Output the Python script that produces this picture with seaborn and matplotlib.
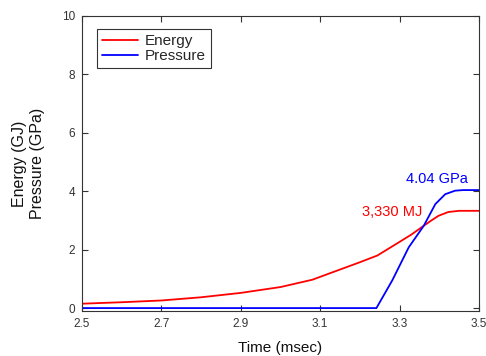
import matplotlib
matplotlib.use("Agg")
import matplotlib.pyplot as plt
import seaborn as sns
import pandas as pd

time_energy = [2.5, 2.6, 2.7, 2.8, 2.9, 3.0, 3.08, 3.15, 3.2, 3.244, 3.298, 3.33, 3.361, 3.38, 3.398, 3.423, 3.45, 3.5]
energy = [0.15, 0.2, 0.26, 0.37, 0.52, 0.72, 0.97, 1.32, 1.57, 1.80, 2.25, 2.52, 2.82, 3.0, 3.16, 3.29, 3.33, 3.33]

time_pressure = [2.5, 3.2416, 3.2816, 3.323, 3.361, 3.39, 3.415, 3.44, 3.46, 3.5]
pressure = [0.0, 0.0, 0.95, 2.08, 2.82, 3.56, 3.90, 4.02, 4.04, 4.04]

energy_label = "3,330 MJ"
pressure_label = "4.04 GPa"

sns.set_style("white")
plt.rcParams["font.family"] = ["Liberation Sans", "DejaVu Sans"]

df = pd.concat([
    pd.DataFrame({"Time": time_energy, "Value": energy, "Series": "Energy"}),
    pd.DataFrame({"Time": time_pressure, "Value": pressure, "Series": "Pressure"}),
])

fig = plt.figure(figsize=(4.86, 3.56), dpi=100)
ax = fig.add_axes([82 / 486, 1 - 311 / 356, 397 / 486, 295 / 356])

sns.lineplot(data=df, x="Time", y="Value", hue="Series",
             palette={"Energy": "#ff0000", "Pressure": "#0000ff"},
             linewidth=1.3, ax=ax, sort=False)

ax.set_xlim(2.5, 3.5)
ax.set_ylim(-0.1, 10)
ax.set_xticks([2.5, 2.7, 2.9, 3.1, 3.3, 3.5])
ax.set_xticklabels(["2.5", "2.7", "2.9", "3.1", "3.3", "3.5"])
ax.set_yticks([0, 2, 4, 6, 8, 10])
ax.tick_params(direction="in", length=4, width=0.8, color="#333333",
               labelcolor="#333333", labelsize=8.5, top=True, right=True,
               bottom=True, left=True, pad=5)
for s in ax.spines.values():
    s.set_visible(True)
    s.set_color("#333333")
    s.set_linewidth(0.8)

ax.set_xlabel("Time (msec)", fontsize=11, color="#111111", labelpad=8)
ax.set_ylabel("Energy (GJ)\nPressure (GPa)", fontsize=11.5, color="#111111",
              labelpad=12, linespacing=1.25)

ax.text(3.473, 4.43, pressure_label, color="#0000ff", fontsize=10.5,
        ha="right", va="center")
ax.text(3.357, 3.28, energy_label, color="#ff0000", fontsize=10.5,
        ha="right", va="center")

leg = ax.legend(loc="upper left", bbox_to_anchor=(0.038, 0.955), frameon=True,
                fontsize=11, handlelength=2.4, handletextpad=0.45,
                borderpad=0.3, labelspacing=0.1, fancybox=False,
                borderaxespad=0)
leg.get_frame().set_edgecolor("#000000")
leg.get_frame().set_linewidth(0.8)
leg.set_title(None)

fig.savefig("out.png", dpi=100)
